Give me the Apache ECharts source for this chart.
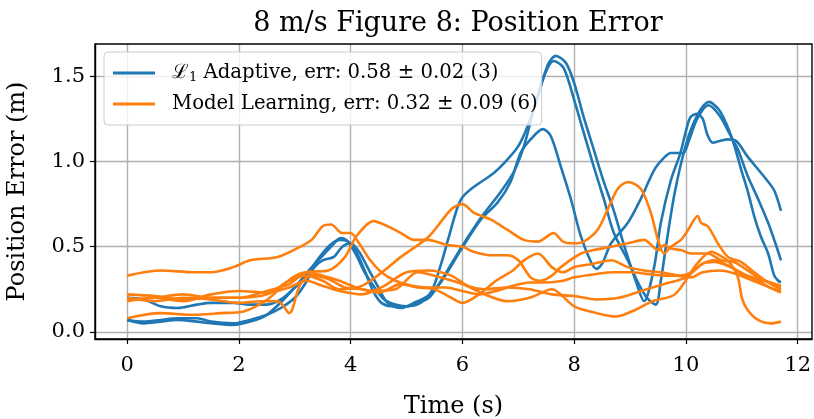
<!DOCTYPE html>
<html>
<head>
<meta charset="utf-8">
<script src="https://cdn.jsdelivr.net/npm/echarts@6/dist/echarts.min.js"></script>
<style>
  html, body { margin: 0; padding: 0; background: #fff; }
  #chart { width: 814px; height: 419px; }
</style>
</head>
<body>
<div id="chart"></div>
<script>
// Position error traces, 8 m/s figure-8 trajectory.
const titleText = '8 m/s Figure 8: Position Error';
const xLabel = 'Time (s)';
const yLabel = 'Position Error (m)';
const xTicks = [0, 2, 4, 6, 8, 10, 12];
const yTicks = [0.0, 0.5, 1.0, 1.5];
const legendLabels = ['Adaptive, err: 0.58 \u00b1 0.02 (3)', 'Model Learning, err: 0.32 \u00b1 0.09 (6)'];

// L1 adaptive runs
const adaptT1 = [0, 0.3, 0.6, 0.9, 1.25, 1.5, 1.9, 2.2, 2.5, 2.75, 3.0, 3.2, 3.4, 3.6, 3.8, 3.95, 4.1, 4.25, 4.4, 4.55, 4.75, 5.0, 5.25, 5.45, 5.6, 5.75, 5.9, 6.0, 6.2, 6.55, 6.8, 7.0, 7.17, 7.35, 7.53, 7.67, 7.85, 8.0, 8.17, 8.35, 8.53, 8.7, 8.9, 9.1, 9.25, 9.43, 9.55, 9.73, 9.9, 10.0, 10.08, 10.2, 10.3, 10.38, 10.48, 10.6, 10.75, 10.9, 11.1, 11.3, 11.45, 11.58, 11.7];
const adaptY1 = [0.2, 0.19, 0.15, 0.14, 0.16, 0.17, 0.17, 0.16, 0.16, 0.19, 0.26, 0.33, 0.42, 0.5, 0.54, 0.53, 0.47, 0.36, 0.24, 0.17, 0.15, 0.15, 0.17, 0.24, 0.38, 0.55, 0.72, 0.79, 0.85, 0.93, 1.01, 1.09, 1.21, 1.38, 1.57, 1.62, 1.58, 1.46, 1.26, 1.07, 0.88, 0.72, 0.5, 0.3, 0.18, 0.38, 0.64, 0.89, 1.05, 1.18, 1.26, 1.28, 1.25, 1.16, 1.11, 1.12, 1.13, 1.12, 1.03, 0.95, 0.89, 0.83, 0.71];
const adaptT2 = [0, 0.3, 0.6, 0.9, 1.25, 1.5, 1.9, 2.2, 2.5, 2.8, 3.05, 3.25, 3.45, 3.65, 3.82, 3.95, 4.1, 4.25, 4.45, 4.6, 4.8, 5.0, 5.2, 5.4, 5.6, 5.97, 6.33, 6.68, 6.92, 7.1, 7.28, 7.46, 7.63, 7.81, 8.0, 8.17, 8.35, 8.53, 8.71, 8.96, 9.14, 9.3, 9.46, 9.55, 9.65, 9.8, 10.0, 10.2, 10.41, 10.6, 10.75, 10.86, 10.99, 11.11, 11.22, 11.34, 11.47, 11.58, 11.65, 11.7];
const adaptY2 = [0.07, 0.05, 0.06, 0.07, 0.06, 0.05, 0.04, 0.06, 0.1, 0.19, 0.28, 0.36, 0.43, 0.5, 0.55, 0.53, 0.45, 0.35, 0.25, 0.19, 0.16, 0.15, 0.17, 0.2, 0.29, 0.49, 0.67, 0.82, 0.94, 1.09, 1.31, 1.5, 1.59, 1.55, 1.36, 1.17, 0.97, 0.78, 0.58, 0.42, 0.29, 0.2, 0.16, 0.3, 0.52, 0.82, 1.1, 1.27, 1.35, 1.3, 1.2, 1.1, 0.95, 0.82, 0.68, 0.56, 0.46, 0.33, 0.3, 0.29];
const adaptT3 = [0, 0.3, 0.6, 0.9, 1.25, 1.5, 1.9, 2.2, 2.5, 2.75, 3.0, 3.2, 3.35, 3.5, 3.7, 3.85, 4.0, 4.15, 4.3, 4.48, 4.66, 4.9, 5.13, 5.38, 5.61, 5.97, 6.33, 6.63, 6.86, 7.04, 7.22, 7.44, 7.58, 7.76, 7.94, 8.12, 8.3, 8.4, 8.5, 8.66, 8.96, 9.19, 9.43, 9.6, 9.73, 9.95, 10.05, 10.2, 10.4, 10.6, 10.8, 10.93, 11.11, 11.29, 11.47, 11.6, 11.7];
const adaptY3 = [0.07, 0.06, 0.07, 0.08, 0.08, 0.06, 0.05, 0.07, 0.1, 0.14, 0.2, 0.29, 0.38, 0.42, 0.44, 0.5, 0.52, 0.47, 0.38, 0.27, 0.17, 0.14, 0.17, 0.21, 0.29, 0.48, 0.66, 0.76, 0.88, 1.05, 1.13, 1.19, 1.15, 0.97, 0.78, 0.56, 0.41, 0.37, 0.4, 0.52, 0.64, 0.78, 0.95, 1.02, 1.05, 1.05, 1.12, 1.25, 1.33, 1.27, 1.15, 1.07, 0.91, 0.78, 0.64, 0.52, 0.42];

// model learning runs
const learnT1 = [0, 0.6, 1.2, 1.5, 1.9, 2.2, 2.7, 3.1, 3.3, 3.5, 3.65, 3.85, 4.0, 4.15, 4.35, 4.55, 4.8, 5.1, 5.4, 5.7, 6.0, 6.3, 6.6, 6.9, 7.2, 7.5, 7.8, 8.0, 8.4, 8.7, 9.0, 9.3, 9.6, 9.9, 10.1, 10.3, 10.5, 10.75, 11.0, 11.3, 11.5, 11.7];
const learnY1 = [0.33, 0.36, 0.35, 0.35, 0.38, 0.42, 0.44, 0.5, 0.54, 0.62, 0.63, 0.58, 0.58, 0.52, 0.42, 0.35, 0.3, 0.27, 0.26, 0.26, 0.24, 0.22, 0.24, 0.27, 0.29, 0.29, 0.3, 0.32, 0.34, 0.35, 0.35, 0.34, 0.33, 0.33, 0.35, 0.4, 0.42, 0.39, 0.34, 0.3, 0.26, 0.24];
const learnT2 = [0, 0.5, 1.0, 1.5, 2.0, 2.5, 2.9, 3.2, 3.5, 3.8, 4.2, 4.6, 4.9, 5.4, 5.8, 6.0, 6.2, 6.5, 6.8, 7.1, 7.35, 7.63, 7.8, 8.0, 8.17, 8.42, 8.6, 8.78, 8.96, 9.19, 9.37, 9.5, 9.61, 9.73, 9.91, 10.04, 10.21, 10.27, 10.39, 10.57, 10.75, 10.99, 11.22, 11.47, 11.7];
const learnY2 = [0.19, 0.2, 0.22, 0.2, 0.2, 0.22, 0.3, 0.33, 0.3, 0.25, 0.27, 0.36, 0.44, 0.56, 0.72, 0.75, 0.7, 0.66, 0.6, 0.54, 0.53, 0.58, 0.53, 0.52, 0.53, 0.6, 0.72, 0.84, 0.88, 0.84, 0.7, 0.54, 0.46, 0.5, 0.54, 0.6, 0.68, 0.64, 0.62, 0.52, 0.44, 0.41, 0.35, 0.29, 0.25];
const learnT3 = [0, 0.5, 1.0, 1.5, 2.0, 2.5, 2.9, 3.2, 3.6, 3.9, 4.1, 4.41, 4.66, 4.9, 5.13, 5.38, 5.73, 6.0, 6.2, 6.5, 6.8, 7.0, 7.22, 7.4, 7.6, 7.76, 8.12, 8.35, 8.66, 8.96, 9.25, 9.5, 9.61, 9.73, 9.91, 10.09, 10.39, 10.63, 10.86, 11.11, 11.34, 11.7];
const learnY3 = [0.22, 0.21, 0.19, 0.2, 0.2, 0.24, 0.28, 0.35, 0.36, 0.44, 0.56, 0.65, 0.62, 0.58, 0.54, 0.54, 0.51, 0.5, 0.47, 0.45, 0.45, 0.42, 0.32, 0.3, 0.33, 0.38, 0.46, 0.48, 0.5, 0.52, 0.54, 0.48, 0.51, 0.49, 0.48, 0.46, 0.46, 0.42, 0.41, 0.36, 0.31, 0.27];
const learnT4 = [0, 0.59, 1.19, 1.67, 2.08, 2.51, 2.92, 3.2, 3.5, 3.8, 4.1, 4.4, 4.8, 5.2, 5.6, 6.0, 6.4, 6.8, 7.2, 7.6, 8.0, 8.4, 8.75, 9.1, 9.4, 9.8, 10.2, 10.45, 10.65, 10.8, 10.93, 11.0, 11.1, 11.29, 11.52, 11.7];
const learnY4 = [0.08, 0.11, 0.1, 0.11, 0.12, 0.19, 0.31, 0.35, 0.33, 0.3, 0.26, 0.24, 0.25, 0.35, 0.32, 0.28, 0.22, 0.18, 0.2, 0.25, 0.15, 0.11, 0.09, 0.13, 0.18, 0.22, 0.4, 0.47, 0.44, 0.4, 0.32, 0.2, 0.13, 0.07, 0.05, 0.06];
const learnT5 = [0, 0.5, 1.0, 1.5, 2.0, 2.4, 2.7, 2.9, 3.1, 3.3, 3.6, 3.9, 4.2, 4.5, 4.9, 5.2, 5.5, 5.8, 6.0, 6.3, 6.6, 6.9, 7.1, 7.35, 7.6, 7.8, 8.0, 8.35, 8.66, 8.96, 9.25, 9.55, 10.09, 10.3, 10.6, 10.9, 11.2, 11.5, 11.7];
const learnY5 = [0.2, 0.18, 0.2, 0.19, 0.17, 0.18, 0.18, 0.11, 0.28, 0.33, 0.31, 0.26, 0.25, 0.23, 0.28, 0.26, 0.25, 0.2, 0.17, 0.22, 0.3, 0.36, 0.42, 0.46, 0.38, 0.35, 0.38, 0.4, 0.42, 0.38, 0.36, 0.35, 0.32, 0.35, 0.36, 0.34, 0.3, 0.26, 0.23];
const learnT6 = [0, 0.5, 1.0, 1.5, 2.0, 2.5, 2.9, 3.2, 3.5, 3.8, 4.2, 4.6, 5.0, 5.4, 5.8, 6.1, 6.4, 6.8, 7.2, 7.6, 8.0, 8.4, 8.8, 9.2, 9.6, 10.0, 10.3, 10.5, 10.8, 11.1, 11.4, 11.7];
const learnY6 = [0.18, 0.2, 0.18, 0.22, 0.24, 0.23, 0.26, 0.3, 0.27, 0.24, 0.22, 0.27, 0.35, 0.36, 0.33, 0.27, 0.25, 0.26, 0.25, 0.22, 0.21, 0.19, 0.2, 0.24, 0.28, 0.32, 0.4, 0.41, 0.38, 0.33, 0.3, 0.26];

const BLUE = '#1f77b4';
const ORANGE = '#ff7f0e';
const SERIF = '"DejaVu Serif", "Liberation Serif", serif';

const adaptRuns = [[adaptT1, adaptY1], [adaptT2, adaptY2], [adaptT3, adaptY3]];
const learnRuns = [[learnT1, learnY1], [learnT2, learnY2], [learnT3, learnY3],
                   [learnT4, learnY4], [learnT5, learnY5], [learnT6, learnY6]];

function pairs(t, y) { return t.map((v, i) => [v, y[i]]); }

function lineSeries(name, color, run) {
  return {
    name: name,
    type: 'line',
    data: pairs(run[0], run[1]),
    showSymbol: false,
    smooth: 0.3,
    lineStyle: { color: color, width: 2.6 },
    itemStyle: { color: color },
    emphasis: { disabled: true },
    animation: false
  };
}

const series = [];
adaptRuns.forEach(r => series.push(lineSeries('adaptive', BLUE, r)));
learnRuns.forEach(r => series.push(lineSeries('learning', ORANGE, r)));

const chart = echarts.init(document.getElementById('chart'), null, { renderer: 'canvas' });
chart.setOption({
  animation: false,
  backgroundColor: '#fff',
  title: {
    text: titleText,
    left: 453, top: 5, textAlign: 'center',
    textStyle: { fontFamily: SERIF, fontSize: 27, fontWeight: 'normal', color: '#000' }
  },
  grid: { left: 95, right: 2, top: 44, bottom: 80, outerBoundsMode: 'none', containLabel: false },
  legend: {
    data: ['adaptive', 'learning'],
    orient: 'vertical',
    left: 104, top: 52,
    padding: [10, 4, 10, 9],
    itemGap: 9,
    itemWidth: 42, itemHeight: 3,
    icon: 'rect',
    backgroundColor: 'rgba(255,255,255,0.8)',
    borderColor: '#cccccc', borderWidth: 1, borderRadius: 4,
    selectedMode: false,
    formatter: function (name) {
      return name === 'adaptive'
        ? '{cal|\u2112}{sub|1} ' + legendLabels[0]
        : legendLabels[1];
    },
    textStyle: {
      fontFamily: SERIF, fontSize: 19.7, color: '#000', lineHeight: 22,
      padding: [0, 0, 0, 12],
      rich: {
        cal: { fontFamily: SERIF, fontSize: 19.7, color: '#000' },
        sub: { fontFamily: SERIF, fontSize: 13, color: '#000', verticalAlign: 'bottom', padding: [9, 0, 0, 1] }
      }
    }
  },
  xAxis: {
    type: 'value',
    min: -0.575, max: 12.255,
    name: xLabel, nameLocation: 'middle', nameGap: 56,
    nameTextStyle: { fontFamily: SERIF, fontSize: 24, color: '#000' },
    axisLine: { show: true, onZero: false, lineStyle: { color: '#000', width: 1.4 } },
    axisTick: { show: true, customValues: xTicks, length: 5, lineStyle: { color: '#000', width: 1.2 } },
    axisLabel: { customValues: xTicks, margin: 16, fontFamily: SERIF, fontSize: 21, color: '#000',
                 formatter: v => String(v) },
    splitLine: { show: true, lineStyle: { color: '#b0b0b0', width: 1.4 } }
  },
  yAxis: {
    type: 'value',
    min: -0.042, max: 1.69,
    name: yLabel, nameLocation: 'middle', nameGap: 65, nameRotate: 90,
    nameTextStyle: { fontFamily: SERIF, fontSize: 24, color: '#000' },
    axisLine: { show: true, onZero: false, lineStyle: { color: '#000', width: 1.4 } },
    axisTick: { show: true, customValues: yTicks, length: 5, lineStyle: { color: '#000', width: 1.2 } },
    axisLabel: { customValues: yTicks, margin: 10, fontFamily: SERIF, fontSize: 21, color: '#000',
                 formatter: v => v.toFixed(1) },
    splitLine: { show: true, lineStyle: { color: '#b0b0b0', width: 1.4 } }
  },
  series: series
});

// frame: matplotlib-style box with top and right spines
chart.setOption({
  graphic: [{
    type: 'rect',
    shape: { x: 95, y: 44, width: 717, height: 295 },
    style: { fill: null, stroke: '#000', lineWidth: 1.4 },
    silent: true, z: 100
  }]
});
</script>
</body>
</html>
